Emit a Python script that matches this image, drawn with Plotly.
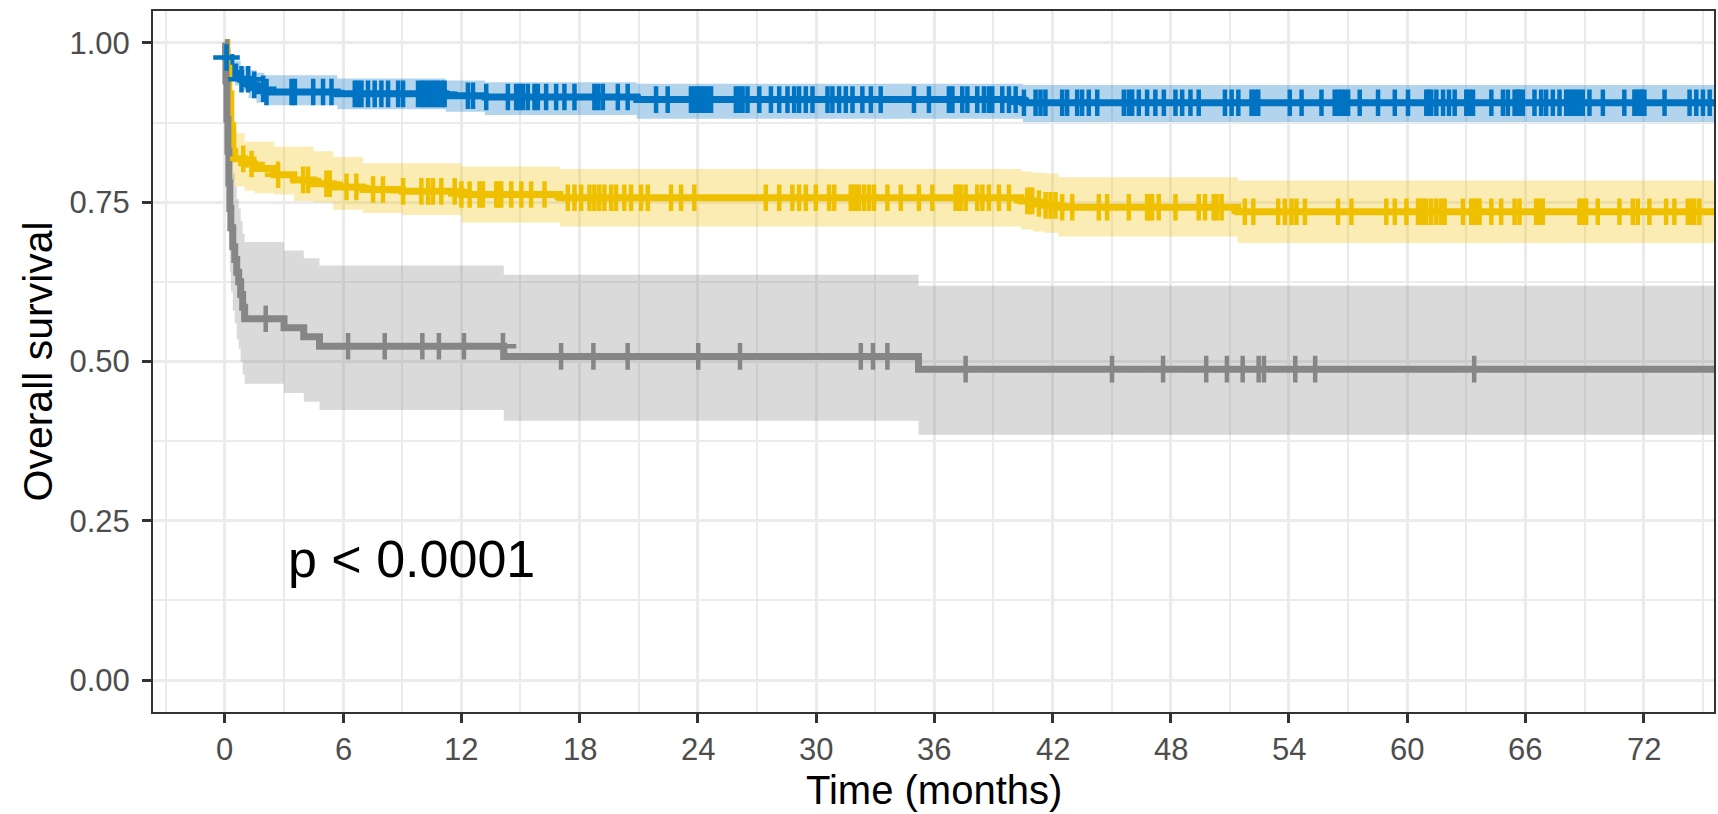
import numpy as np
import plotly.graph_objects as go

# ---------------- data ----------------
# Blue stratum: Kaplan-Meier step function and 95% CI
blue_time  = [0, 0.05, 0.3, 0.5, 0.8, 1.2, 1.6, 2.0, 5.7, 11.2, 13.2, 20.9, 40.5, 75.6]
blue_surv  = [1.0, 0.977, 0.962, 0.952, 0.943, 0.934, 0.928, 0.923, 0.920, 0.917, 0.915, 0.911, 0.906, 0.906]
blue_upper = [1.0, 0.990, 0.980, 0.972, 0.963, 0.957, 0.953, 0.949, 0.944, 0.941, 0.938, 0.936, 0.934, 0.934]
blue_lower = [1.0, 0.964, 0.945, 0.933, 0.924, 0.913, 0.906, 0.902, 0.896, 0.892, 0.887, 0.881, 0.876, 0.876]
blue_censor = [0.08, 0.84, 1.18, 1.49, 1.94, 2.11, 3.38, 3.55, 4.48, 4.98, 5.41, 6.59, 6.76, 6.93,
               7.26, 7.60, 7.94, 8.28, 8.79, 9.04, 9.80, 10.0, 10.14, 10.3, 10.48, 10.65, 10.81, 11.0,
               11.15, 12.33, 12.59, 13.26, 14.36, 14.78, 14.95, 15.12, 15.37, 15.71, 15.88, 16.30,
               16.81, 17.23, 17.74, 18.75, 18.95, 19.18, 19.94, 20.44, 21.88, 22.47, 23.65, 23.82,
               23.99, 24.16, 24.33, 24.5, 24.67, 25.93, 26.1, 26.27, 26.52, 27.12, 27.71, 28.13,
               28.55, 28.89, 29.14, 29.48, 29.82, 30.58, 30.83, 31.17, 31.51, 31.85, 32.35, 32.78,
               33.28, 34.97, 35.73, 36.74, 36.92, 37.42, 37.68, 38.18, 38.52, 38.77, 38.94, 39.45,
               39.79, 40.13, 40.55, 41.14, 41.39, 41.64, 42.49, 42.74, 43.25, 43.50, 43.84, 44.27,
               45.62, 45.87, 46.04, 46.38, 46.80, 47.22, 47.65, 48.24, 48.58, 49.0, 49.42, 50.75,
               51.09, 51.43, 52.10, 52.27, 52.44, 54.04, 54.64, 55.65, 56.32, 56.49, 56.66, 56.83,
               57.0, 57.59, 58.52, 59.37, 60.04, 60.97, 61.1, 61.22, 61.48, 61.82, 62.12, 62.41,
               63.0, 63.17, 63.34, 64.27, 64.86, 65.11, 65.45, 65.6, 65.70, 65.87, 66.46, 66.80,
               67.05, 67.39, 67.73, 68.07, 68.24, 68.41, 68.58, 68.74, 68.91, 69.25, 69.93, 71.02,
               71.53, 71.66, 71.79, 71.92, 72.04, 73.06, 74.33, 74.67, 75.01, 75.35]

# Yellow stratum
yel_time  = [0, 0.1, 0.2, 0.3, 0.4, 0.5, 1.0, 1.5, 2.5, 3.5, 4.5, 5.5, 7.0, 9.0, 12.0, 17.0,
             40.4, 41.0, 41.6, 42.3, 51.4, 75.6]
yel_surv  = [1.0, 0.96, 0.92, 0.87, 0.83, 0.818, 0.810, 0.803, 0.793, 0.785, 0.779, 0.774, 0.770,
             0.767, 0.762, 0.757, 0.752, 0.748, 0.745, 0.742, 0.735, 0.735]
yel_upper = [1.0, 0.985, 0.96, 0.92, 0.875, 0.858, 0.845, 0.845, 0.837, 0.837, 0.830, 0.821, 0.811,
             0.811, 0.806, 0.802, 0.798, 0.796, 0.795, 0.789, 0.784, 0.784]
yel_lower = [1.0, 0.93, 0.88, 0.82, 0.785, 0.775, 0.768, 0.764, 0.762, 0.752, 0.75, 0.738, 0.733,
             0.73, 0.718, 0.712, 0.707, 0.704, 0.702, 0.696, 0.686, 0.686]
yel_censor = [0.93, 1.35, 2.70, 3.97, 4.22, 5.15, 5.32, 6.17, 6.67, 7.52, 8.02, 9.04, 9.97, 10.31,
              10.56, 10.98, 11.66, 12.0, 12.42, 12.92, 13.09, 13.77, 13.9, 14.02, 14.53, 15.04,
              15.54, 16.22, 17.40, 17.74, 18.08, 18.5, 18.75, 19.0, 19.26, 19.6, 19.85, 20.27,
              20.61, 21.12, 21.46, 22.64, 23.15, 23.82, 27.45, 28.13, 28.80, 29.14, 29.48, 29.99,
              30.66, 30.92, 31.76, 31.9, 32.02, 32.18, 32.44, 32.69, 32.94, 33.62, 34.3, 35.22,
              35.9, 37.08, 37.2, 37.34, 37.59, 38.18, 38.44, 38.77, 39.28, 39.79, 40.72, 40.85,
              40.97, 41.31, 41.65, 41.90, 42.15, 42.49, 43.0, 44.35, 44.77, 45.87, 46.80, 46.9,
              47.05, 47.39, 48.24, 49.42, 49.74, 50.18, 50.33, 50.58, 51.76, 52.19, 53.45, 53.79,
              54.13, 54.38, 54.81, 56.49, 57.17, 58.94, 59.37, 59.96, 60.55, 60.7, 60.80, 60.97,
              61.22, 61.48, 61.73, 61.9, 62.83, 63.25, 63.4, 63.50, 63.67, 64.27, 64.77, 65.45,
              65.70, 66.54, 66.7, 66.88, 68.74, 68.9, 69.08, 69.67, 70.77, 71.45, 71.70, 72.29,
              73.14, 73.56, 74.24, 74.4, 74.57, 74.83]

# Gray stratum
gray_time  = [0, 0.05, 0.1, 0.15, 0.2, 0.25, 0.3, 0.4, 0.5, 0.6, 0.7, 0.8, 0.9, 1.0, 3.0, 4.0,
              4.8, 14.15, 35.2, 75.6]
gray_surv  = [1.0, 0.94, 0.88, 0.83, 0.78, 0.74, 0.71, 0.68, 0.66, 0.64, 0.625, 0.605, 0.585,
              0.567, 0.553, 0.539, 0.524, 0.508, 0.488, 0.488]
gray_upper = [1.0, 0.99, 0.96, 0.92, 0.88, 0.85, 0.82, 0.795, 0.775, 0.755, 0.74, 0.72, 0.70,
              0.6875, 0.674, 0.662, 0.6505, 0.636, 0.619, 0.619]
gray_lower = [1.0, 0.87, 0.79, 0.73, 0.68, 0.64, 0.61, 0.58, 0.56, 0.535, 0.52, 0.50, 0.48,
              0.465, 0.4505, 0.437, 0.424, 0.407, 0.385, 0.385]
gray_censor = [2.07, 6.25, 8.11, 10.02, 10.86, 12.13, 14.11, 17.06, 18.70, 20.44, 24.02, 26.14,
               32.27, 32.89, 33.62, 37.59, 45.02, 47.61, 49.8, 50.85, 51.65, 52.46, 52.73,
               54.32, 55.33, 63.40]

x_ticks = [0, 6, 12, 18, 24, 30, 36, 42, 48, 54, 60, 66, 72]
y_ticks = [0.0, 0.25, 0.50, 0.75, 1.00]
p_label = "p < 0.0001"

# ---------------- styling ----------------
strata = [
    ("Blue", blue_time, blue_surv, blue_upper, blue_lower, blue_censor, "#0073C2", "rgba(0,115,194,0.3)"),
    ("Yellow", yel_time, yel_surv, yel_upper, yel_lower, yel_censor, "#EFC000", "rgba(239,192,0,0.3)"),
    ("Gray", gray_time, gray_surv, gray_upper, gray_lower, gray_censor, "#868686", "rgba(134,134,134,0.3)"),
]

FONT = "Liberation Sans, Arial, Helvetica, sans-serif"

fig = go.Figure()

# confidence ribbons
for name, t, s, up, lo, cen, col, fillcol in strata:
    fig.add_trace(go.Scatter(x=t, y=lo, mode="lines", line=dict(width=0, shape="hv"),
                             hoverinfo="skip", showlegend=False))
    fig.add_trace(go.Scatter(x=t, y=up, mode="lines", line=dict(width=0, shape="hv"),
                             fill="tonexty", fillcolor=fillcol, hoverinfo="skip", showlegend=False))

# survival step curves
for name, t, s, up, lo, cen, col, fillcol in strata:
    fig.add_trace(go.Scatter(x=t, y=s, mode="lines", name=name,
                             line=dict(color=col, width=7, shape="hv"), showlegend=False))

# censor marks
for name, t, s, up, lo, cen, col, fillcol in strata:
    ta = np.asarray(t)
    sa = np.asarray(s)
    idx = np.searchsorted(ta, np.asarray(cen), side="right") - 1
    fig.add_trace(go.Scatter(x=cen, y=sa[idx], mode="markers", showlegend=False,
                             marker=dict(symbol="cross-thin", size=19, color=col,
                                         line=dict(color=col, width=4.5))))

# x tick labels (placed on the x axis scale)
for v in x_ticks:
    fig.add_annotation(x=v, y=0, xref="x", yref="paper", text=str(v), showarrow=False,
                       xanchor="center", yanchor="middle", yshift=-37,
                       font=dict(family=FONT, size=31, color="#4D4D4D"))

fig.add_annotation(x=3.1, y=0.19, xref="x", yref="y", text=p_label, showarrow=False,
                   xanchor="left", yanchor="middle", font=dict(family=FONT, size=52, color="black"))
fig.add_annotation(x=0.5, y=0, xref="paper", yref="paper", text="Time (months)", showarrow=False,
                   xanchor="center", yanchor="middle", yshift=-78,
                   font=dict(family=FONT, size=40, color="black"))
fig.add_annotation(x=0, y=0.5, xref="paper", yref="paper", text="Overall survival", showarrow=False,
                   xanchor="center", yanchor="middle", xshift=-116, textangle=-90,
                   font=dict(family=FONT, size=41, color="black"))

axis_common = dict(
    showline=True, linecolor="#333333", linewidth=2, mirror=True,
    ticks="outside", ticklen=9, tickwidth=2.5, tickcolor="#333333",
    showgrid=True, gridcolor="#EBEBEB", gridwidth=2.7, zeroline=False,
    tickfont=dict(family=FONT, size=31, color="#4D4D4D"),
)

fig.update_xaxes(range=[-3.65, 75.57], tickvals=x_ticks, showticklabels=False,
                 minor=dict(showgrid=True, gridcolor="#EBEBEB", gridwidth=1.5, tick0=3, dtick=6,
                            ticks=""),
                 **axis_common)
fig.update_yaxes(range=[-0.05, 1.05], tickvals=y_ticks, tickformat=".2f", ticklabelstandoff=6,
                 minor=dict(showgrid=True, gridcolor="#EBEBEB", gridwidth=1.5, tick0=0.125,
                            dtick=0.25, ticks=""),
                 **axis_common)

fig.update_layout(width=1718, height=814, margin=dict(l=153, r=2, t=11, b=102),
                  plot_bgcolor="white", paper_bgcolor="white", showlegend=False,
                  font=dict(family=FONT))

fig.write_html("out.html", config={"displayModeBar": False},
               post_script="document.body.style.margin='0';document.body.style.overflow='hidden';")
